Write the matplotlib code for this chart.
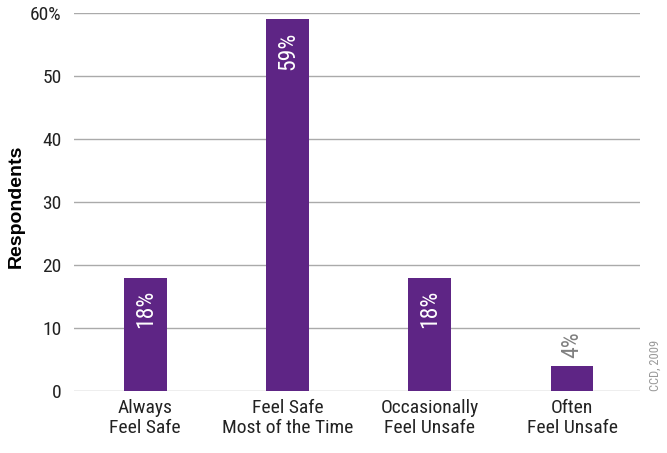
import matplotlib.pyplot as plt

# data
categories = ['Always\nFeel Safe', 'Feel Safe\nMost of the Time', 'Occasionally\nFeel Unsafe', 'Often\nFeel Unsafe']
values = [18, 59, 18, 4]
yticks = [0, 10, 20, 30, 40, 50, 60]
ytick_labels = ['0', '10', '20', '30', '40', '50', '60%']

plt.rcParams['font.family'] = ['Roboto Condensed', 'DejaVu Sans']
plt.rcParams['font.stretch'] = 'condensed'

fig = plt.figure(figsize=(6.67, 4.53), dpi=100)
ax = fig.add_axes([0.111, 0.137, 0.849, 0.834])

purple = '#5e2585'
x = range(len(values))
ax.bar(x, values, width=0.3, color=purple, zorder=3)

# labels inside tall bars, above the short one
for i, v in enumerate(values):
    if v > 10:
        ax.text(i, v - 2, f'{v}%', rotation=90, ha='center', va='top',
                color='white', fontsize=17, zorder=4)
    else:
        ax.text(i, v + 1.3, f'{v}%', rotation=90, ha='center', va='bottom',
                color='#808080', fontsize=17, zorder=4)

ax.set_xlim(-0.5, 3.48)
ax.set_ylim(0, 60)
ax.set_yticks(yticks)
ax.set_yticklabels(ytick_labels, fontsize=14, color='#222222')
ax.set_xticks(list(x))
ax.set_xticklabels(categories, fontsize=14, color='#222222', linespacing=1.15)
ax.tick_params(length=0, pad=9)
ax.tick_params(axis='x', pad=6)
ax.yaxis.grid(True, color='#aaaaaa', linewidth=1)
ax.set_axisbelow(True)
for s in ax.spines.values():
    s.set_visible(False)

fig.text(0.024, 0.545, 'Respondents', rotation=90, ha='center', va='center',
         fontsize=14, fontweight='bold', fontstretch='normal',
         family=['Liberation Sans', 'DejaVu Sans'])

fig.text(0.982, 0.137, 'CCD, 2009', rotation=90, ha='center', va='bottom',
         fontsize=9, color='#999999')

plt.savefig('out.png')
